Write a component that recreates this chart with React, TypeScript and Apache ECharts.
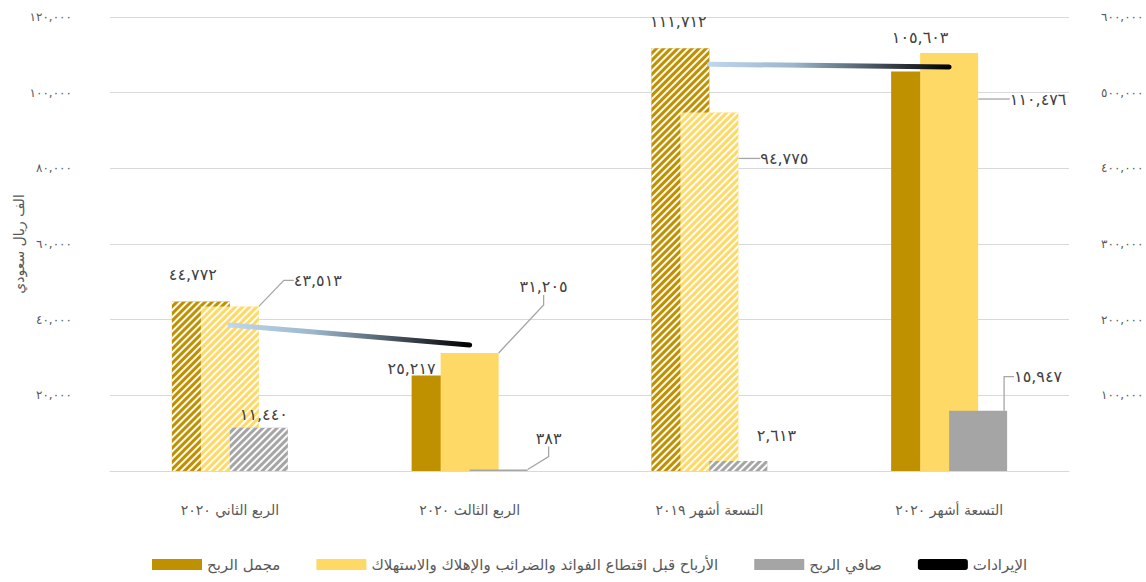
import React, { useEffect, useRef } from "react";
import * as echarts from "echarts";

const categories = [
  "الربع الثاني ٢٠٢٠",
  "الربع الثالث ٢٠٢٠",
  "التسعة أشهر ٢٠١٩",
  "التسعة أشهر ٢٠٢٠",
];
const grossProfit = [44772, 25217, 111712, 105603];
const ebitda = [43513, 31205, 94775, 110476];
const netProfit = [11440, 383, 2613, 15947];
const revenueA = [193000, 166500, null, null];
const revenueB = [null, null, 537500, 534000];
const hatched = [true, false, true, false];

const leftTicks = [0, 20000, 40000, 60000, 80000, 100000, 120000];
const rightTicks = [0, 100000, 200000, 300000, 400000, 500000, 600000];

const names = {
  gross: "مجمل الربح",
  ebitda: "الأرباح قبل اقتطاع الفوائد والضرائب والإهلاك والاستهلاك",
  net: "صافي الربح",
  revenue: "الإيرادات",
  yName: "الف ريال سعودي",
};

// label placement (style only)
const grossOffsets = [[-8, -14], [-29, 6], [-2, -14], [0, -21]];
const ebitdaMoves = [[88, -13], [74, -53], [75, 59], [89, 59]];
const netMoves = [[5, 0], [50, -18], [38, -13], [60, -21]];
const netHasLine = [false, true, false, true];

const toArabic = (n: number) =>
  Math.round(n)
    .toLocaleString("en-US")
    .replace(/[0-9]/g, (d) => "٠١٢٣٤٥٦٧٨٩"[+d]);

const FONT = "DejaVu Sans, sans-serif";

const hatch = () => ({
  symbol: "rect",
  symbolSize: 1,
  color: "rgba(255,255,255,0.95)",
  dashArrayX: [1, 0],
  dashArrayY: [2, 2.6],
  rotation: -Math.PI / 4,
});

export default function App() {
  const ref = useRef<HTMLDivElement>(null);
  useEffect(() => {
    if (!ref.current) return;
    const chart = echarts.init(ref.current, null, { renderer: "svg" });
    const gradient = () =>
      new echarts.graphic.LinearGradient(0, 0, 1, 0, [
        { offset: 0, color: "#BDD7EE" },
        { offset: 0.35, color: "#9DB6CC" },
        { offset: 0.7, color: "#44505C" },
        { offset: 1, color: "#000000" },
      ]);
    const labelStyle = {
      show: true,
      color: "#404040",
      fontSize: 16,
      fontFamily: FONT,
      formatter: (p: any) => toArabic(p.value),
    };
    const mkBarData = (vals: number[], extra: (i: number) => any) =>
      vals.map((v, i) => ({
        value: v,
        itemStyle: hatched[i] ? { decal: hatch() } : {},
        ...extra(i),
      }));

    chart.setOption({
      animation: false,
      grid: {
        left: 110,
        right: 77,
        top: 17,
        bottom: 111,
        outerBoundsMode: "none",
        containLabel: false,
      },
      legend: {
        bottom: 5,
        left: 147,
        itemGap: 36,
        itemWidth: 50,
        itemHeight: 11,
        textStyle: { color: "#595959", fontSize: 15, fontFamily: FONT },
        data: [
          { name: names.gross, icon: "rect" },
          { name: names.ebitda, icon: "rect" },
          { name: names.net, icon: "rect" },
          {
            name: names.revenue,
            icon: "roundRect",
            itemStyle: { color: "#000" },
          },
        ],
      },
      xAxis: {
        type: "category",
        data: categories,
        axisLine: { show: true, lineStyle: { color: "#D9D9D9", width: 1 } },
        axisTick: { show: false },
        axisLabel: {
          color: "#595959",
          fontSize: 14,
          fontFamily: FONT,
          margin: 32,
        },
      },
      yAxis: [
        {
          type: "value",
          min: leftTicks[0],
          max: leftTicks[leftTicks.length - 1],
          interval: leftTicks[1] - leftTicks[0],
          name: names.yName,
          nameLocation: "middle",
          nameGap: 84,
          nameRotate: 90,
          nameMoveOverlap: false,
          nameTextStyle: { color: "#595959", fontSize: 14, fontFamily: FONT },
          axisLine: { show: false },
          axisTick: { show: false },
          splitLine: { lineStyle: { color: "#D9D9D9", width: 1 } },
          axisLabel: {
            color: "#595959",
            fontSize: 12,
            fontFamily: FONT,
            margin: 38,
            formatter: (v: number) => (v === 0 ? "" : toArabic(v)),
          },
        },
        {
          type: "value",
          min: rightTicks[0],
          max: rightTicks[rightTicks.length - 1],
          interval: rightTicks[1] - rightTicks[0],
          axisLine: { show: false },
          axisTick: { show: false },
          splitLine: { show: false },
          axisLabel: {
            color: "#595959",
            fontSize: 12,
            fontFamily: FONT,
            margin: 32,
            formatter: (v: number) => (v === 0 ? "" : toArabic(v)),
          },
        },
      ],
      series: [
        {
          name: names.gross,
          type: "bar",
          barWidth: 58,
          barGap: "-50%",
          itemStyle: { color: "#BF9000" },
          data: mkBarData(grossProfit, (i) => ({
            label: { offset: grossOffsets[i] },
          })),
          label: { ...labelStyle, position: "top" },
        },
        {
          name: names.ebitda,
          type: "bar",
          barWidth: 58,
          barGap: "-50%",
          itemStyle: { color: "#FFD966" },
          data: mkBarData(ebitda, () => ({})),
          label: { ...labelStyle, position: "top" },
          labelLine: {
            show: true,
            length2: 10,
            lineStyle: { color: "#A6A6A6", width: 1.3 },
          },
          labelLayout: (p: any) => ({
            dx: ebitdaMoves[p.dataIndex][0],
            dy: ebitdaMoves[p.dataIndex][1],
          }),
        },
        {
          name: names.net,
          type: "bar",
          barWidth: 58,
          barGap: "-50%",
          itemStyle: { color: "#A5A5A5" },
          data: mkBarData(netProfit, (i) => ({
            labelLine: { show: netHasLine[i] },
          })),
          label: { ...labelStyle, position: "top" },
          labelLine: {
            show: true,
            length2: 10,
            lineStyle: { color: "#A6A6A6", width: 1.3 },
          },
          labelLayout: (p: any) => ({
            dx: netMoves[p.dataIndex][0],
            dy: netMoves[p.dataIndex][1],
          }),
        },
        {
          name: names.revenue,
          type: "line",
          yAxisIndex: 1,
          symbol: "none",
          data: revenueA,
          lineStyle: { width: 5, color: gradient(), cap: "round" },
          itemStyle: { color: "#000" },
          z: 5,
        },
        {
          name: names.revenue,
          type: "line",
          yAxisIndex: 1,
          symbol: "none",
          data: revenueB,
          lineStyle: { width: 5, color: gradient(), cap: "round" },
          itemStyle: { color: "#000" },
          z: 5,
        },
      ],
    });
    return () => chart.dispose();
  }, []);
  return (
    <div
      ref={ref}
      style={{
        position: "fixed",
        left: 0,
        top: 0,
        width: 1146,
        height: 582,
        background: "#fff",
      }}
    />
  );
}
